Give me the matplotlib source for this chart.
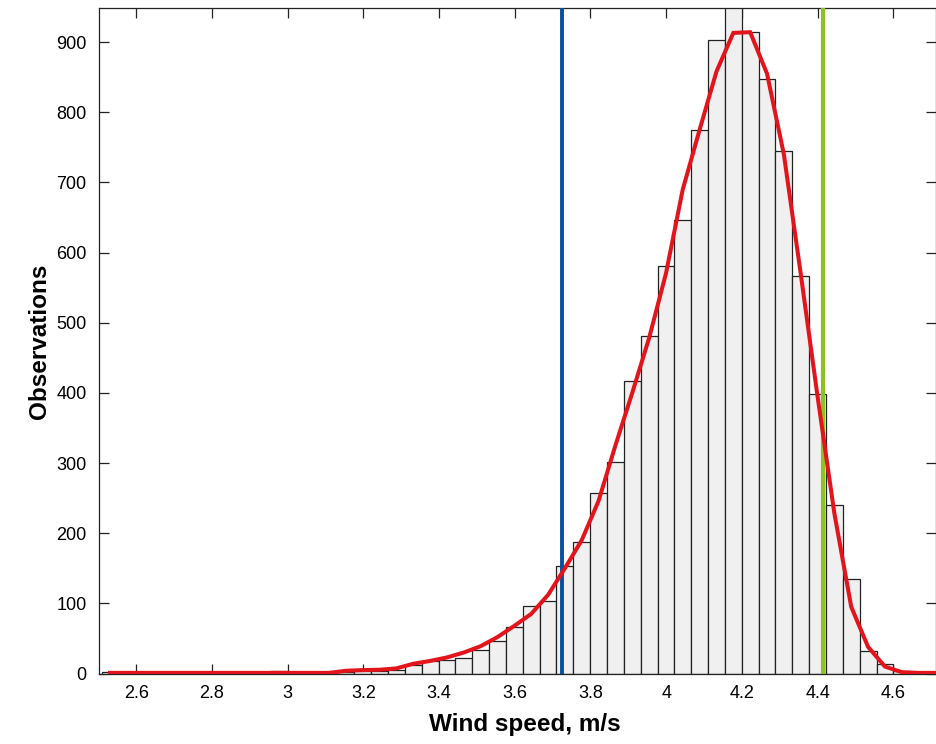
import numpy as np
import matplotlib
matplotlib.use('Agg')
import matplotlib.pyplot as plt
from matplotlib.ticker import FuncFormatter

plt.rcParams['font.family'] = ['Liberation Sans', 'DejaVu Sans']

# histogram bins (wind speed, m/s)
bin_start = 2.5087
bin_width = 0.0445
counts = [2, 0, 0, 0, 0, 0, 0, 0, 0, 0,
          3, 0, 0, 0, 2, 3, 4, 5, 12, 18,
          19, 22, 34, 46, 66, 96, 104, 154, 187, 257,
          301, 417, 481, 581, 647, 775, 903, 960, 914, 848,
          745, 567, 399, 240, 135, 32, 13, 4, 1, 0]

# smoothed curve values at bin centres
curve = [1, 1, 1, 1, 1, 1, 1, 1, 1, 1,
         1, 1, 1, 1, 4, 5, 5.5, 7.4, 14, 18,
         23, 30, 39, 52, 68, 85, 112, 150, 190, 246,
         325, 400, 478, 570, 690, 775, 858, 913, 914, 855,
         740, 570, 395, 228, 95, 38, 10, 2, 1, 1]

mean_line = 3.725
upper_line = 4.414

edges = bin_start + bin_width * np.arange(len(counts))
centers = edges + bin_width / 2

fig = plt.figure(figsize=(9.37, 7.44), dpi=100)
ax = fig.add_axes([0.1057, 0.0937, 0.8933, 0.8951])

ax.bar(edges, counts, width=bin_width, align='edge',
       color='#f0f0f0', edgecolor='#222222', linewidth=0.9, zorder=2)
ax.axvline(mean_line, color='#0a4f9e', linewidth=2.8, zorder=3)
ax.axvline(upper_line, color='#8cc321', linewidth=3.0, zorder=3)
ax.plot(centers, curve, color='#e3141b', linewidth=2.9, zorder=4,
        solid_joinstyle='miter')

ax.set_xlim(2.502, 4.713)
ax.set_ylim(-1, 948)
ax.set_xticks(np.round(np.arange(2.6, 4.61, 0.2), 1))
ax.set_yticks(range(0, 901, 100))
ax.xaxis.set_major_formatter(FuncFormatter(lambda v, p: f'{v:g}'))

ax.tick_params(direction='in', length=7, width=0.9, labelsize=13,
               top=True, right=True, color='#222222')
ax.tick_params(axis='x', pad=8)
ax.tick_params(axis='y', pad=9)
for s in ax.spines.values():
    s.set_linewidth(0.9)
    s.set_color('#222222')

ax.set_xlabel('Wind speed, m/s', fontsize=17.5, fontweight='bold')
ax.xaxis.set_label_coords(0.509, -0.058)
ax.set_ylabel('Observations', fontsize=17.5, fontweight='bold', labelpad=4)

fig.savefig('out.png', dpi=100)
